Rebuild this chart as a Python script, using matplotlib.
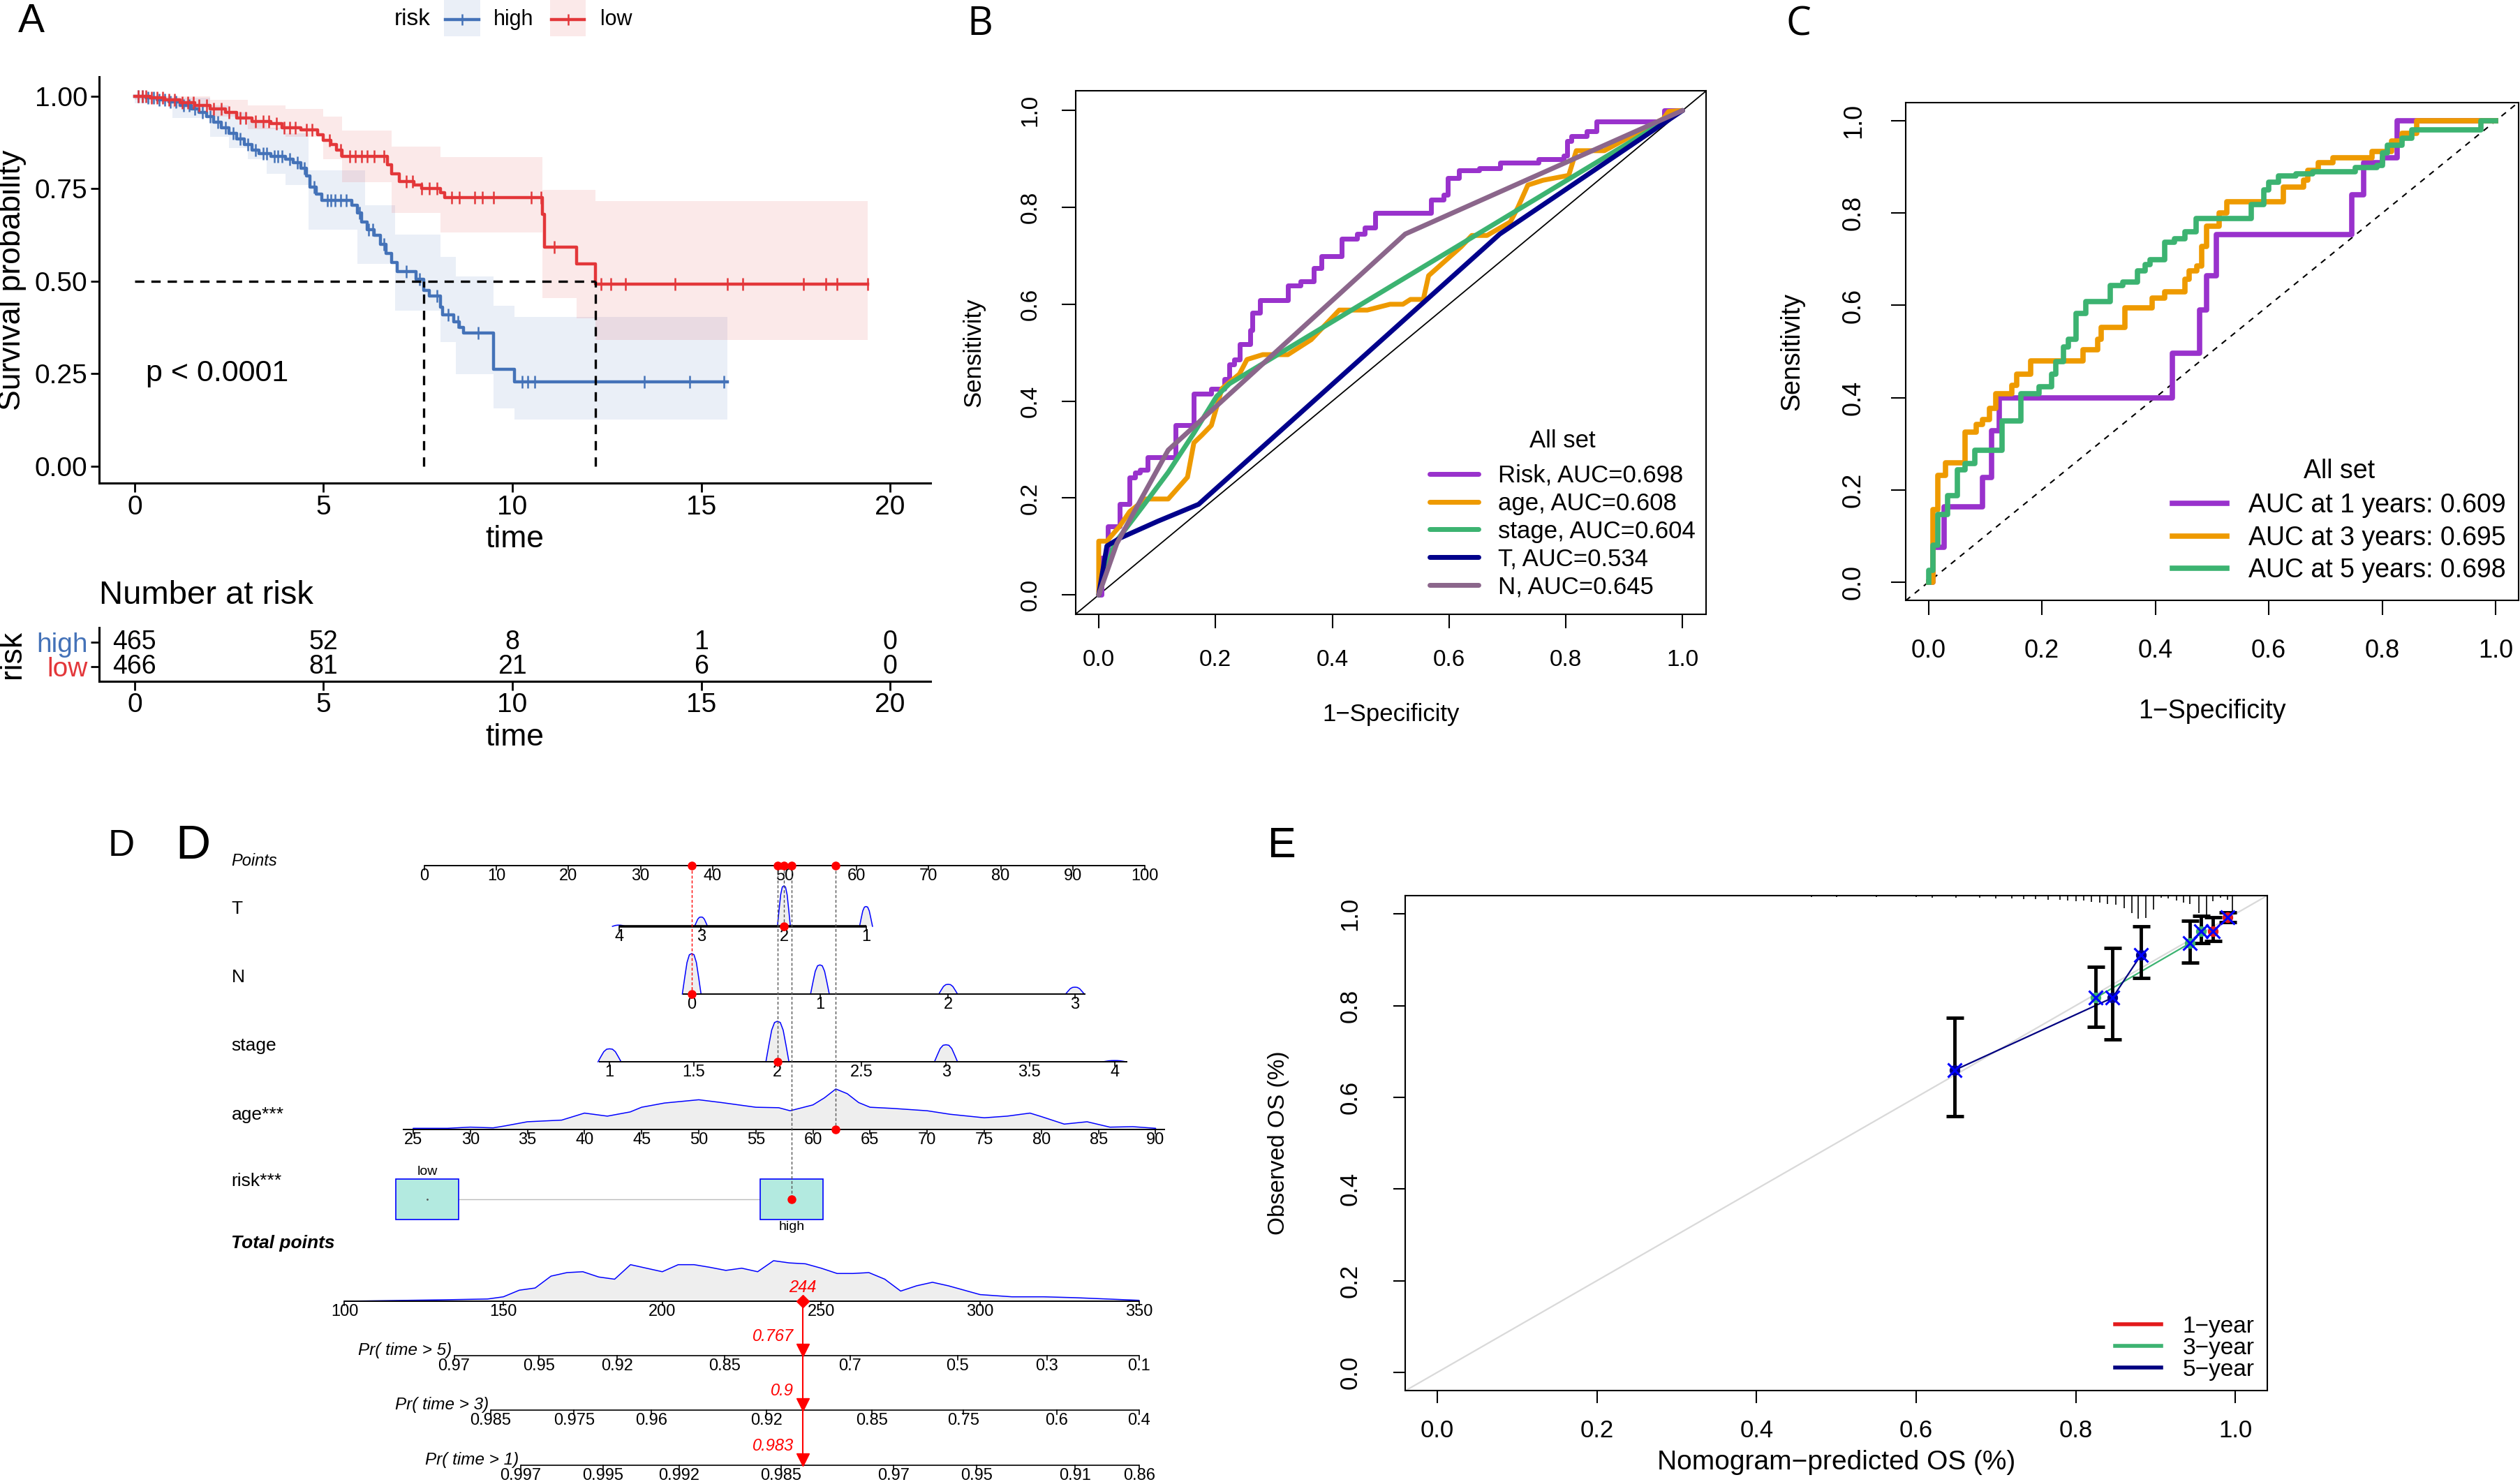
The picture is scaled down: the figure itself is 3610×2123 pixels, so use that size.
import numpy as np
import matplotlib
matplotlib.use("Agg")
import matplotlib.pyplot as plt
from matplotlib.patches import Rectangle
from matplotlib.lines import Line2D

plt.rcParams['font.family'] = ['Liberation Sans', 'DejaVu Sans']

W, H = 3610, 2123

# ---------------- A: Kaplan-Meier ----------------
km_high_t = [0, 0.3, 0.6, 0.9, 1.2, 1.5, 1.7, 1.9, 2.1, 2.3, 2.5, 2.7, 2.9, 3.1, 3.3, 3.6, 4.0, 4.2, 4.4, 4.55,
             4.65, 4.8, 4.95, 5.75, 5.9, 6.0, 6.15, 6.35, 6.5, 6.65, 6.8, 6.95, 7.45, 7.65, 7.8, 8.1, 8.15, 8.45,
             8.6, 8.7, 9.5, 10.05, 15.7]
km_high_s = [1.0, 0.995, 0.99, 0.985, 0.975, 0.965, 0.955, 0.945, 0.93, 0.915, 0.9, 0.885, 0.87, 0.855, 0.845,
             0.837, 0.83, 0.82, 0.805, 0.785, 0.755, 0.735, 0.718, 0.705, 0.685, 0.66, 0.64, 0.625, 0.6, 0.575,
             0.55, 0.526, 0.505, 0.475, 0.46, 0.43, 0.41, 0.39, 0.375, 0.361, 0.262, 0.229, 0.229]
km_low_t = [0, 0.4, 0.8, 1.2, 1.6, 2.0, 2.4, 2.7, 3.1, 3.6, 3.9, 4.4, 4.85, 5.0, 5.2, 5.35, 5.5, 6.7, 6.8, 7.0,
            7.4, 7.6, 8.1, 8.2, 10.8, 10.85, 11.7, 12.2, 19.4]
km_low_s = [1.0, 0.995, 0.99, 0.983, 0.975, 0.965, 0.955, 0.94, 0.932, 0.925, 0.915, 0.908, 0.895, 0.88, 0.87,
            0.855, 0.837, 0.815, 0.79, 0.77, 0.76, 0.75, 0.74, 0.725, 0.68, 0.593, 0.546, 0.493, 0.493]

band_high_t = [0, 1.0, 2.0, 2.5, 3.0, 3.5, 4.0, 4.6, 5.9, 6.1, 6.9, 8.1, 8.5, 9.5, 10.05, 15.7]
band_high_up = [1.0, 0.995, 0.975, 0.955, 0.935, 0.915, 0.9, 0.80, 0.80, 0.705, 0.626, 0.566, 0.513, 0.434, 0.403, 0.403]
band_high_lo = [0.98, 0.94, 0.89, 0.86, 0.83, 0.79, 0.76, 0.64, 0.546, 0.546, 0.42, 0.335, 0.249, 0.156, 0.127, 0.127]
band_low_t = [0, 1.0, 2.0, 3.0, 4.0, 5.0, 5.5, 6.8, 8.1, 10.8, 11.7, 12.2, 19.4]
band_low_up = [1.0, 1.0, 0.99, 0.975, 0.965, 0.945, 0.906, 0.864, 0.835, 0.747, 0.747, 0.716, 0.716]
band_low_lo = [0.99, 0.97, 0.945, 0.91, 0.89, 0.83, 0.768, 0.685, 0.632, 0.454, 0.40, 0.341, 0.341]

cens_high = [0.1, 0.2, 0.35, 0.5, 0.65, 0.8, 0.95, 1.1, 1.3, 1.45, 1.6, 1.8, 2.0, 2.2, 2.4, 2.6, 2.8, 3.0, 3.2,
             3.4, 3.5, 3.7, 3.8, 3.9, 4.1, 4.3, 4.5, 4.75, 5.1, 5.2, 5.3, 5.45, 5.6, 5.95, 6.2, 6.3, 6.6, 7.2,
             7.55, 8.0, 8.3, 8.55, 9.1, 10.25, 10.4, 10.6, 13.5, 14.7, 15.6]
cens_low = [0.1, 0.2, 0.3, 0.45, 0.6, 0.75, 0.9, 1.05, 1.25, 1.4, 1.55, 1.7, 1.9, 2.1, 2.3, 2.5, 2.8, 2.95, 3.2,
            3.4, 3.55, 3.75, 3.95, 4.1, 4.25, 4.55, 4.7, 5.15, 5.45, 5.7, 5.85, 6.0, 6.15, 6.35, 6.6, 7.2, 7.35,
            7.6, 7.8, 8.0, 8.4, 8.6, 9.0, 9.2, 9.5, 10.5, 10.75, 11.1, 12.35, 12.6, 13.0, 14.3, 15.7, 16.1,
            17.7, 18.3, 18.6, 19.4]

risk_times = [0, 5, 10, 15, 20]
risk_high_n = [465, 52, 8, 1, 0]
risk_low_n = [466, 81, 21, 6, 0]

# ---------------- B: ROC by variable ----------------
roc_risk_x = [0.0, 0.005, 0.016, 0.036, 0.053, 0.062, 0.071, 0.084, 0.132, 0.163, 0.193, 0.215, 0.224, 0.232,
              0.241, 0.259, 0.263, 0.276, 0.324, 0.346, 0.368, 0.381, 0.416, 0.442, 0.455, 0.473, 0.569, 0.591,
              0.598, 0.617, 0.652, 0.687, 0.753, 0.796, 0.802, 0.809, 0.836, 0.853, 0.969, 1.0]
roc_risk_y = [0.0, 0.076, 0.142, 0.187, 0.243, 0.253, 0.258, 0.284, 0.350, 0.415, 0.426, 0.446, 0.476, 0.486,
              0.517, 0.547, 0.583, 0.608, 0.638, 0.648, 0.674, 0.699, 0.735, 0.745, 0.758, 0.788, 0.816, 0.826,
              0.861, 0.876, 0.881, 0.892, 0.900, 0.907, 0.937, 0.947, 0.957, 0.978, 1.0, 1.0]
roc_age_x = [0.0, 0.0, 0.014, 0.036, 0.053, 0.080, 0.119, 0.152, 0.163, 0.176, 0.193, 0.211, 0.241, 0.254, 0.281,
             0.324, 0.364, 0.412, 0.460, 0.499, 0.521, 0.534, 0.556, 0.565, 0.621, 0.639, 0.665, 0.705, 0.718,
             0.735, 0.761, 0.805, 0.818, 0.866, 0.967, 0.976, 1.0]
roc_age_y = [0.0, 0.111, 0.111, 0.142, 0.172, 0.198, 0.198, 0.243, 0.314, 0.329, 0.350, 0.426, 0.456, 0.486, 0.496,
             0.496, 0.527, 0.588, 0.588, 0.600, 0.600, 0.610, 0.610, 0.659, 0.719, 0.742, 0.742, 0.770, 0.800,
             0.846, 0.856, 0.866, 0.917, 0.917, 0.983, 0.998, 1.0]
roc_stage_x = [0.0, 0.027, 0.075, 0.119, 0.163, 0.202, 0.224, 1.0]
roc_stage_y = [0.0, 0.106, 0.182, 0.253, 0.334, 0.410, 0.436, 1.0]
roc_t_x = [0.0, 0.014, 0.036, 0.101, 0.171, 0.687, 1.0]
roc_t_y = [0.0, 0.101, 0.117, 0.152, 0.187, 0.745, 1.0]
roc_n_x = [0.0, 0.031, 0.075, 0.119, 0.525, 1.0]
roc_n_y = [0.0, 0.106, 0.203, 0.299, 0.745, 1.0]
auc_b = {'Risk': 0.698, 'age': 0.608, 'stage': 0.604, 'T': 0.534, 'N': 0.645}

# ---------------- C: time-dependent ROC ----------------
roc1_x = [0.0, 0.008, 0.028, 0.095, 0.111, 0.125, 0.430, 0.478, 0.491, 0.508, 0.746, 0.767, 0.800, 0.826, 1.0]
roc1_y = [0.0, 0.075, 0.163, 0.227, 0.328, 0.400, 0.496, 0.590, 0.664, 0.753, 0.840, 0.909, 0.920, 1.0, 1.0]
roc3_x = [0.0, 0.008, 0.017, 0.030, 0.064, 0.084, 0.095, 0.108, 0.119, 0.147, 0.156, 0.180, 0.273, 0.299, 0.304,
          0.346, 0.395, 0.417, 0.452, 0.460, 0.473, 0.482, 0.491, 0.513, 0.526, 0.626, 0.661, 0.669, 0.687, 0.713,
          0.782, 0.817, 0.835, 0.861, 1.0]
roc3_y = [0.0, 0.158, 0.232, 0.259, 0.325, 0.342, 0.353, 0.376, 0.408, 0.426, 0.451, 0.480, 0.504, 0.526, 0.552,
          0.595, 0.616, 0.630, 0.656, 0.675, 0.686, 0.728, 0.771, 0.800, 0.824, 0.856, 0.872, 0.893, 0.909, 0.920,
          0.933, 0.957, 0.973, 1.0, 1.0]
roc5_x = [0.0, 0.0, 0.008, 0.017, 0.034, 0.051, 0.064, 0.082, 0.130, 0.163, 0.195, 0.217, 0.225, 0.238, 0.247,
          0.260, 0.278, 0.321, 0.343, 0.369, 0.382, 0.391, 0.417, 0.434, 0.452, 0.472, 0.569, 0.591, 0.600, 0.617,
          0.648, 0.678, 0.752, 0.791, 0.800, 0.809, 0.835, 0.852, 0.974, 1.0]
roc5_y = [0.0, 0.025, 0.080, 0.147, 0.187, 0.243, 0.257, 0.286, 0.350, 0.408, 0.424, 0.451, 0.478, 0.510, 0.526,
          0.582, 0.609, 0.643, 0.651, 0.675, 0.689, 0.699, 0.737, 0.744, 0.760, 0.789, 0.819, 0.851, 0.867, 0.880,
          0.885, 0.890, 0.899, 0.904, 0.931, 0.947, 0.963, 0.981, 1.0, 1.0]
auc_c = {1: 0.609, 3: 0.695, 5: 0.698}

# ---------------- D: nomogram ----------------
t_vals = [4, 3, 2, 1]
t_pts = [27.0, 38.4, 49.9, 61.3]
t_dens = [0.03, 0.23, 1.0, 0.49]
n_vals = [0, 1, 2, 3]
n_pts = [37.1, 54.9, 72.7, 90.3]
n_dens = [1.0, 0.72, 0.24, 0.17]
stage_vals = [1, 1.5, 2, 2.5, 3, 3.5, 4]
stage_pts = [25.7, 37.4, 49.0, 60.7, 72.4, 84.0, 95.8]
stage_dens = [0.32, 0, 1.0, 0, 0.42, 0, 0.03]
age_vals = [25, 30, 35, 40, 45, 50, 55, 60, 65, 70, 75, 80, 85, 90]
age_pts_range = [-1.56, 101.5]
age_dens_x = [23, 25, 28, 30, 32, 33, 35, 38, 40, 42, 44, 45, 47, 50, 52, 55, 57, 58, 60, 61, 62, 63, 64, 65,
              67, 70, 72, 75, 77, 79, 80, 82, 84, 86, 88, 90, 91]
age_dens_y = [0, 5, 5, 10, 7, 15, 33, 40, 70, 57, 75, 95, 113, 127, 115, 95, 93, 80, 105, 135, 173, 153, 115, 95,
              90, 80, 65, 50, 57, 70, 55, 23, 33, 10, 12, 5, 0]
risk_levels = ['low', 'high']
risk_pts = [0.4, 51.0]
tot_ticks = [100, 150, 200, 250, 300, 350]
tot_pts_range = [-11.1, 99.2]
tot_dens_x = [100, 130, 145, 150, 155, 160, 165, 170, 175, 180, 185, 190, 195, 200, 205, 210, 215, 220, 225, 230,
              235, 240, 245, 250, 255, 260, 265, 270, 275, 280, 285, 290, 295, 300, 310, 320, 330, 340, 350, 357]
tot_dens_y = [0, 3, 5, 10, 25, 30, 57, 65, 67, 55, 50, 83, 75, 67, 83, 83, 77, 70, 75, 67, 92, 87, 85, 75, 63, 63,
              65, 50, 23, 35, 43, 35, 25, 15, 10, 10, 8, 5, 2, 1]
pr_names = ['Pr( time > 5)', 'Pr( time > 3)', 'Pr( time > 1)']
pr_labels = [['0.97', '0.95', '0.92', '0.85', '0.7', '0.5', '0.3', '0.1'],
             ['0.985', '0.975', '0.96', '0.92', '0.85', '0.75', '0.6', '0.4'],
             ['0.997', '0.995', '0.992', '0.985', '0.97', '0.95', '0.91', '0.86']]
pr_tot = [[134.5, 161.2, 185.8, 219.6, 259.1, 292.9, 321.0, 353.7],
          [146.0, 172.2, 196.5, 232.7, 266.0, 294.8, 324.1, 353.7],
          [155.5, 181.4, 205.3, 237.4, 272.7, 298.9, 329.9, 353.7]]
pr_pred = ['0.767', '0.9', '0.983']
case = {'T': 2, 'N': 0, 'stage': 2, 'age': 62, 'risk': 'high'}

# ---------------- E: calibration ----------------
cal_groups = ['1-year', '3-year', '5-year']
cal_pred = [[0.972, 0.99], [0.825, 0.943, 0.957], [0.648, 0.846, 0.882]]
cal_obs = [[0.962, 0.992], [0.817, 0.936, 0.962], [0.659, 0.817, 0.911]]
cal_lo = [[0.941, 0.982], [0.754, 0.894, 0.936], [0.559, 0.726, 0.860]]
cal_hi = [[0.992, 1.003], [0.885, 0.985, 0.996], [0.773, 0.925, 0.973]]
rug_pred = [0.009, 0.062, 0.146, 0.191, 0.30, 0.40, 0.469, 0.50, 0.55, 0.60, 0.62, 0.65, 0.68, 0.70, 0.72, 0.735,
            0.75, 0.765, 0.78, 0.79, 0.80, 0.81, 0.82, 0.83, 0.84, 0.85, 0.861, 0.870, 0.878, 0.888, 0.897, 0.907,
            0.916, 0.926, 0.935, 0.943, 0.954, 0.964, 0.972, 0.981, 0.99, 0.996]
rug_len = [1, 1, 1, 1, 1, 1, 2, 2, 2, 2, 3, 3, 3, 4, 4, 5, 5, 6, 6, 7, 8, 7, 9, 10, 12, 13, 18, 25, 33, 32, 20,
           3, 4, 7, 10, 12, 25, 28, 8, 3, 6, 25]


def box(l, t, r, b):
    return [l / W, 1 - b / H, (r - l) / W, (b - t) / H]


def px(v):
    return v * 0.72


fig = plt.figure(figsize=(W / 100, H / 100), dpi=100)

# ======================= Panel A =======================
c_high, c_low = '#4472B8', '#E3373A'
axA = fig.add_axes(box(142, 110, 1333, 692))
groups = [(km_high_t, km_high_s, band_high_t, band_high_up, band_high_lo, cens_high, c_high),
          (km_low_t, km_low_s, band_low_t, band_low_up, band_low_lo, cens_low, c_low)]
medians = []
for t, s, bt, bu, bl, cens, col in groups:
    t = np.array(t)
    s = np.array(s)
    axA.fill_between(bt, bl, bu, step='post', color=col, alpha=0.11, lw=0)
    axA.step(t, s, where='post', color=col, lw=3.2)
    cy = s[np.searchsorted(t, cens, side='right') - 1]
    axA.plot(cens, cy, ls='none', marker='|', ms=13, mew=1.8, color=col)
    medians.append(t[np.argmax(s <= 0.5)])
axA.plot([0, max(medians)], [0.5, 0.5], color='black', ls=(0, (4, 3)), lw=2.4)
for m in medians:
    axA.plot([m, m], [0, 0.5], color='black', ls=(0, (4, 3)), lw=2.4)
axA.text(0.3, 0.25, 'p < 0.0001', fontsize=31, va='center')
axA.set_xlim(-0.94, 21.07)
axA.set_ylim(-0.045, 1.052)
axA.set_xticks([0, 5, 10, 15, 20])
axA.set_yticks([0, 0.25, 0.5, 0.75, 1.0])
axA.set_yticklabels(['0.00', '0.25', '0.50', '0.75', '1.00'])
for sp in ['top', 'right']:
    axA.spines[sp].set_visible(False)
for sp in ['left', 'bottom']:
    axA.spines[sp].set_linewidth(2.2)
axA.tick_params(labelsize=28, length=9, width=2, pad=3)
axA.set_xlabel('time', fontsize=32)
axA.xaxis.set_label_coords(0.5, -0.103)
axA.set_ylabel('Survival probability', fontsize=32)
axA.yaxis.set_label_coords(-0.087, 0.5)

axT = fig.add_axes(box(142, 899, 1333, 975.5))
for i, tt in enumerate(risk_times):
    axT.text(tt, 1, str(risk_high_n[i]), ha='center', va='center', fontsize=27)
    axT.text(tt, 0, str(risk_low_n[i]), ha='center', va='center', fontsize=27)
axT.set_xlim(-0.94, 21.07)
axT.set_ylim(-0.586, 1.602)
axT.set_yticks([1, 0])
axT.set_yticklabels(['high', 'low'])
for lab, col in zip(axT.get_yticklabels(), [c_high, c_low]):
    lab.set_color(col)
axT.set_xticks([0, 5, 10, 15, 20])
for sp in ['top', 'right']:
    axT.spines[sp].set_visible(False)
for sp in ['left', 'bottom']:
    axT.spines[sp].set_linewidth(2.2)
axT.tick_params(labelsize=28, length=9, width=2, pad=3)
axT.set_xlabel('time', fontsize=32)
axT.xaxis.set_label_coords(0.5, -0.79)
axT.set_ylabel('risk', fontsize=32)
axT.yaxis.set_label_coords(-0.087, 0.5)
fig.text(142 / W, 1 - 853 / H, 'Number at risk', fontsize=34, va='center', ha='left')

# legend on top
fig.text(591 / W, 1 - 28 / H, 'risk', fontsize=24, ha='center', va='center')
for (x0, x1, col, lab, tx) in [(636, 688, c_high, 'high', 707), (788, 839, c_low, 'low', 860)]:
    fig.add_artist(Rectangle((x0 / W, 1 - 52 / H), (x1 - x0) / W, 52 / H, transform=fig.transFigure,
                             color=col, alpha=0.11, lw=0))
    fig.add_artist(Line2D([(x0 + 2) / W, (x1 - 2) / W], [1 - 28 / H] * 2, transform=fig.transFigure,
                          color=col, lw=3.2))
    fig.add_artist(Line2D([(x0 + x1) / 2 / W], [1 - 28 / H], transform=fig.transFigure, color=col,
                          marker='|', ms=12, mew=1.8))
    fig.text(tx / W, 1 - 28 / H, lab, fontsize=22, ha='left', va='center')

# ======================= Panel B =======================
axB = fig.add_axes(box(1540.5, 130.5, 2443.8, 880))
axB.plot([-0.04, 1.04], [-0.04, 1.04], color='black', lw=1.3)
b_lines = [('Risk', roc_risk_x, roc_risk_y, '#9932CC', True),
           ('age', roc_age_x, roc_age_y, '#EE9A00', False),
           ('stage', roc_stage_x, roc_stage_y, '#3CB371', False),
           ('T', roc_t_x, roc_t_y, '#00008B', False),
           ('N', roc_n_x, roc_n_y, '#8B668B', False)]
for name, xs, ys, col, stp in b_lines:
    axB.plot(xs, ys, color=col, lw=5, drawstyle='steps-post' if stp else 'default',
             label=f'{name}, AUC={auc_b[name]:.3f}', solid_capstyle='round')
axB.set_xlim(-0.04, 1.04)
axB.set_ylim(-0.04, 1.04)
ticks = [0, 0.2, 0.4, 0.6, 0.8, 1.0]
axB.set_xticks(ticks)
axB.set_yticks(ticks)
axB.set_xticklabels([f'{v:.1f}' for v in ticks])
axB.set_yticklabels([f'{v:.1f}' for v in ticks], rotation=90, va='center')
axB.tick_params(axis='x', labelsize=24, length=px(20), width=1.5, pad=px(30))
axB.tick_params(axis='y', labelsize=24, length=px(20), width=1.5, pad=px(29))
for sp in axB.spines.values():
    sp.set_linewidth(1.5)
axB.set_xlabel('1\u2212Specificity', fontsize=25)
axB.xaxis.set_label_coords(0.5, -0.17)
axB.set_ylabel('Sensitivity', fontsize=25)
axB.yaxis.set_label_coords(-0.143, 0.5)
lgB = axB.legend(loc='lower right', bbox_to_anchor=(0.983, 0.03), frameon=False, fontsize=25, title='All set',
                 title_fontsize=25, handlelength=2.0, handletextpad=0.8, labelspacing=0.2, borderpad=0,
                 borderaxespad=0)
lgB._legend_box.sep = 12

# ======================= Panel C =======================
axC = fig.add_axes(box(2730, 146.7, 3607.6, 860.4))
axC.plot([-0.04, 1.04], [-0.04, 1.04], color='black', lw=1.5, ls=(0, (4, 4)))
for yr, xs, ys, col in [(1, roc1_x, roc1_y, '#9932CC'), (3, roc3_x, roc3_y, '#EE9A00'),
                        (5, roc5_x, roc5_y, '#3CB371')]:
    axC.plot(xs, ys, color=col, lw=5.5, drawstyle='steps-post',
             label=f'AUC at {yr} years: {auc_c[yr]:.3f}')
axC.set_xlim(-0.04, 1.04)
axC.set_ylim(-0.04, 1.04)
axC.set_xticks(ticks)
axC.set_yticks(ticks)
axC.set_xticklabels([f'{v:.1f}' for v in ticks])
axC.set_yticklabels([f'{v:.1f}' for v in ticks], rotation=90, va='center')
axC.tick_params(axis='x', labelsize=26, length=px(21), width=1.5, pad=px(34))
axC.tick_params(axis='y', labelsize=26, length=px(21), width=1.5, pad=px(36))
for sp in axC.spines.values():
    sp.set_linewidth(1.5)
axC.set_xlabel('1\u2212Specificity', fontsize=27)
axC.xaxis.set_label_coords(0.5, -0.197)
axC.set_ylabel('Sensitivity', fontsize=27)
axC.yaxis.set_label_coords(-0.165, 0.5)
lgC = axC.legend(loc='lower right', bbox_to_anchor=(0.98, 0.035), frameon=False, fontsize=27, title='All set',
                 title_fontsize=27, handlelength=2.07, handletextpad=0.85, labelspacing=0.28, borderpad=0,
                 borderaxespad=0)
lgC._legend_box.sep = 10

# ======================= Panel D: nomogram =======================
PX0, PXS = 608.0, 10.32
axD = fig.add_axes(box(0, 1150, 1750, 2123))
axD.set_xlim(-PX0 / PXS, (1750 - PX0) / PXS)
axD.set_ylim(2123, 1150)
axD.axis('off')
DENS_PX = 58
FS = 17
LBL_X = -26.8


def tot2x(tp):
    return np.interp(tp, [100, 350], tot_pts_range)


def age2x(a):
    return np.interp(a, [25, 90], age_pts_range)


def nomo_axis(y, pos, labels, lw=1.4, ext=None):
    lo, hi = ext if ext else (min(pos), max(pos))
    axD.plot([lo, hi], [y, y], color='black', lw=lw, solid_capstyle='butt', zorder=2)
    for p, lab in zip(pos, labels):
        axD.plot([p, p], [y, y + 6], color='black', lw=1.2, zorder=2)
        axD.text(p, y + 4, lab, ha='center', va='top', fontsize=FS)


def bumps(y, pos, dens, hw):
    shape_x = np.array([-1, -0.75, -0.5, -0.25, 0, 0.25, 0.5, 0.75, 1])
    shape_y = np.array([0, 0.4, 0.78, 0.97, 1, 0.97, 0.78, 0.4, 0])
    for p, d in zip(pos, dens):
        if d <= 0:
            continue
        xs = p + hw * shape_x
        ys = y - d * DENS_PX * shape_y
        axD.fill(xs, ys, color='#EEEEEE', lw=0, zorder=1)
        axD.plot(xs, ys, color='blue', lw=1.1, zorder=1)


Y_PTS, Y_T, Y_N, Y_ST, Y_AGE, Y_RISK, Y_TOT = 1240, 1327, 1424, 1521, 1618, 1718, 1864
Y_PR = [1942, 2020, 2099]

# points scale
nomo_axis(Y_PTS, list(range(0, 101, 10)), [str(v) for v in range(0, 101, 10)])
axD.text(LBL_X, Y_PTS - 7, 'Points', fontsize=17, style='italic', va='center')
# T
bumps(Y_T, t_pts, t_dens, 0.9)
nomo_axis(Y_T, t_pts, [str(v) for v in t_vals], lw=2.6)
axD.text(LBL_X, 1302, 'T', fontsize=19, va='center')
# N
bumps(Y_N, n_pts, n_dens, 1.3)
nomo_axis(Y_N, n_pts, [str(v) for v in n_vals], ext=(n_pts[0] - 1.2, n_pts[-1] + 1.5))
axD.text(LBL_X, 1400, 'N', fontsize=19, va='center')
# stage
bumps(Y_ST, stage_pts, stage_dens, 1.6)
nomo_axis(Y_ST, stage_pts, [f'{v:g}' for v in stage_vals], ext=(stage_pts[0] - 1.5, stage_pts[-1] + 1.8))
axD.text(LBL_X, 1498, 'stage', fontsize=19, va='center')
# age
ax_age_x = age2x(np.array(age_dens_x))
ax_age_y = Y_AGE - np.array(age_dens_y) / max(age_dens_y) * DENS_PX
axD.fill_between(ax_age_x, Y_AGE, ax_age_y, color='#EEEEEE', lw=0, zorder=1)
axD.plot(ax_age_x, ax_age_y, color='blue', lw=1.1, zorder=1)
nomo_axis(Y_AGE, age2x(np.array(age_vals)), [str(v) for v in age_vals], ext=(-3.0, 102.8))
axD.text(LBL_X, 1597, 'age***', fontsize=19, va='center')
# risk
for lev, p in zip(risk_levels, risk_pts):
    axD.add_patch(Rectangle((p - 4.35, Y_RISK - 29), 8.7, 58, facecolor='#B3EAE0', edgecolor='blue', lw=1.2,
                            zorder=2))
axD.plot([risk_pts[0] + 4.35, risk_pts[1] - 4.35], [Y_RISK, Y_RISK], color='#BBBBBB', lw=1, zorder=1)
axD.plot(risk_pts[0], Y_RISK, marker='.', ms=2, color='#555555', zorder=3)
axD.text(risk_pts[0], Y_RISK - 31, 'low', ha='center', va='bottom', fontsize=14)
axD.text(risk_pts[1], Y_RISK + 31, 'high', ha='center', va='top', fontsize=14)
axD.text(LBL_X, 1692, 'risk***', fontsize=19, va='center')
# total points
tx = tot2x(np.array(tot_dens_x))
ty = Y_TOT - np.array(tot_dens_y) / max(tot_dens_y) * DENS_PX
axD.fill_between(tx, Y_TOT, ty, color='#EEEEEE', lw=0, zorder=1)
axD.plot(tx, ty, color='blue', lw=1.1, zorder=1)
nomo_axis(Y_TOT, tot2x(np.array(tot_ticks)), [str(v) for v in tot_ticks])
axD.text(LBL_X, 1781, 'Total points', fontsize=19, style='italic', weight='bold', va='center')
# probability scales
for name, labs, tps, y in zip(pr_names, pr_labels, pr_tot, Y_PR):
    pos = tot2x(np.array(tps))
    nomo_axis(y, pos, labs, lw=1.2)
    axD.text(pos[0] - 0.3, y + 4, name, ha='right', va='bottom', fontsize=17.5, style='italic')

# selected patient
case_pts = [np.interp(case['N'], n_vals, n_pts),
            np.interp(case['stage'], stage_vals, stage_pts),
            np.interp(case['T'], t_vals[::-1], t_pts[::-1]),
            risk_pts[risk_levels.index(case['risk'])],
            float(age2x(case['age']))]
case_rows = [Y_N, Y_ST, Y_T, Y_RISK, Y_AGE]
for i, (p, yr) in enumerate(zip(case_pts, case_rows)):
    axD.plot([p, p], [Y_PTS, yr], color='red' if i == 0 else '#555555', lw=1, ls=(0, (3, 2)), zorder=3)
    axD.plot(p, Y_PTS, 'o', color='red', ms=8, zorder=4)
    axD.plot(p, yr, 'o', color='red', ms=8, zorder=4)
total = sum(case_pts)
xt = float(tot2x(total))
axD.plot([xt, xt], [Y_TOT, Y_PR[-1]], color='red', lw=1.5, zorder=3)
axD.plot(xt, Y_TOT, 'D', color='red', ms=9, zorder=4)
axD.text(xt, Y_TOT - 8, f'{total:.0f}', color='red', fontsize=17, style='italic', ha='center', va='bottom')
for y, lab in zip(Y_PR, pr_pred):
    axD.plot(xt, y - 8, 'v', color='red', ms=13, zorder=4)
    axD.text(xt - 1.2, y - 16, lab, color='red', fontsize=17, style='italic', ha='right', va='bottom')

fig.text(173.5 / W, 1 - 1212 / H, 'D', fontsize=38, ha='center', va='center')
fig.text(276.6 / W, 1 - 1212 / H, 'D', fontsize=50, ha='center', va='center')

# ======================= Panel E =======================
axE = fig.add_axes(box(2013.3, 1282.9, 3248, 1992.2))
axE.plot([-0.04, 1.04], [-0.04, 1.04], color='#D9D9D9', lw=1.6)
rl = np.array(rug_len) / max(rug_len) * 0.05
axE.vlines(rug_pred, 1.04 - rl, 1.04, color='black', lw=1.2)
cal_cols = ['#E31A1C', '#3CB371', '#000080']
for g, col in enumerate(cal_cols):
    p = np.array(cal_pred[g])
    o = np.array(cal_obs[g])
    axE.plot(p, o, color=col, lw=1.6, zorder=2)
    axE.errorbar(p, o, yerr=[o - np.array(cal_lo[g]), np.array(cal_hi[g]) - o], fmt='none', ecolor='black',
                 elinewidth=3.5, capsize=9, capthick=3.5, zorder=3)
    axE.plot(p, o, 'o', color=col, ms=10, zorder=4)
    axE.plot(p, o, 'x', color='blue', ms=14, mew=2.2, zorder=5)
axE.set_xlim(-0.04, 1.04)
axE.set_ylim(-0.04, 1.04)
axE.set_xticks(ticks)
axE.set_yticks(ticks)
axE.set_xticklabels([f'{v:.1f}' for v in ticks])
axE.set_yticklabels([f'{v:.1f}' for v in ticks], rotation=90, va='center')
axE.tick_params(axis='x', labelsize=25, length=px(17.5), width=1.5, pad=px(23))
axE.tick_params(axis='y', labelsize=25, length=px(17.5), width=1.5, pad=px(45))
for sp in axE.spines.values():
    sp.set_linewidth(1.5)
axE.set_xlabel('Nomogram\u2212predicted OS (%)', fontsize=28)
axE.xaxis.set_label_coords(0.5, -0.12)
axE.set_ylabel('Observed OS (%)', fontsize=24)
axE.yaxis.set_label_coords(-0.135, 0.5)
handles = [Line2D([], [], color=c, lw=4) for c in cal_cols]
axE.legend(handles, [g.replace('-', '\u2212') for g in cal_groups], loc='lower right',
           bbox_to_anchor=(0.985, 0.02), frameon=False, fontsize=24, handlelength=2.0, handletextpad=0.9,
           labelspacing=0.0, borderpad=0, borderaxespad=0)

# panel letters
fig.text(45 / W, 1 - 31 / H, 'A', fontsize=41, ha='center', va='center')
fig.text(1404 / W, 1 - 36 / H, 'B', fontsize=41, ha='center', va='center', family=['Open Sans', 'DejaVu Sans'])
fig.text(2577 / W, 1 - 36 / H, 'C', fontsize=41, ha='center', va='center', family=['Open Sans', 'DejaVu Sans'])
fig.text(1836 / W, 1 - 1212 / H, 'E', fontsize=44, ha='center', va='center')

fig.savefig('out.png', dpi=100)
